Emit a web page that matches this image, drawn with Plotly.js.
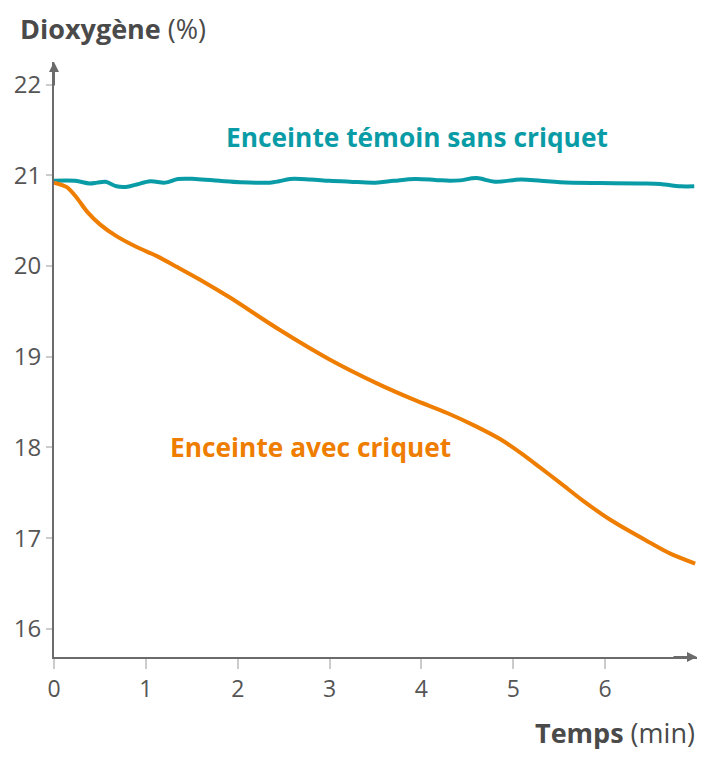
<!DOCTYPE html>
<html>
<head>
<meta charset="utf-8">
<script src="https://cdn.plot.ly/plotly-3.0.1.min.js"></script>
<style>html,body{margin:0;padding:0;background:#fff;}#chart{width:725px;height:760px;}</style>
</head>
<body>
<div id="chart"></div>
<script>
// Time (min)
const tempsTemoin = [0, 0.23, 0.39, 0.47, 0.56, 0.68, 0.8, 0.9, 1.05, 1.21, 1.35, 1.54, 1.8, 2.03, 2.35, 2.45, 2.57, 2.79, 3.0, 3.22, 3.5, 3.7, 3.93, 4.15, 4.31, 4.42, 4.6, 4.8, 5.08, 5.3, 5.51, 5.95, 6.38, 6.6, 6.82, 6.97];
const o2Temoin   = [20.94, 20.94, 20.91, 20.92, 20.93, 20.88, 20.875, 20.9, 20.935, 20.92, 20.96, 20.96, 20.94, 20.925, 20.92, 20.935, 20.96, 20.955, 20.94, 20.93, 20.92, 20.94, 20.96, 20.95, 20.94, 20.945, 20.97, 20.93, 20.955, 20.94, 20.925, 20.915, 20.91, 20.905, 20.88, 20.88];

const tempsCriquet = [0, 0.14, 0.25, 0.36, 0.5, 0.68, 0.9, 1.12, 1.34, 1.59, 1.92, 2.45, 3.0, 3.55, 3.91, 4.28, 4.6, 4.86, 5.08, 5.29, 5.51, 5.75, 6.06, 6.49, 6.71, 6.98];
const o2Criquet    = [20.92, 20.87, 20.75, 20.6, 20.46, 20.33, 20.21, 20.11, 19.99, 19.85, 19.65, 19.3, 18.97, 18.69, 18.53, 18.38, 18.23, 18.09, 17.94, 17.78, 17.61, 17.42, 17.2, 16.95, 16.83, 16.72];

const yTicks = [16, 17, 18, 19, 20, 21, 22];
const xTicks = [0, 1, 2, 3, 4, 5, 6];

const FONT = "Open Sans";
const teal = "#0a9ca6";
const orange = "#ee7d00";
const axisCol = "#6b6b6b";

const data = [
  {x: tempsTemoin, y: o2Temoin, mode: "lines", line: {color: teal, width: 4, shape: "spline", smoothing: 1}, hoverinfo: "skip"},
  {x: tempsCriquet, y: o2Criquet, mode: "lines", line: {color: orange, width: 4, shape: "spline", smoothing: 0.8}, hoverinfo: "skip"}
];

const layout = {
  width: 725, height: 760,
  margin: {l: 54, r: 28, t: 62, b: 103},
  showlegend: false,
  paper_bgcolor: "#fff", plot_bgcolor: "#fff",
  font: {family: FONT, color: "#555"},
  title: {text: "<b>Dioxygène</b> (%)", x: 20/725, xanchor: "left", xref: "container", y: 1 - 30/760, yanchor: "middle", yref: "container",
          font: {family: FONT, size: 27, color: "#4a4a4a"}},
  xaxis: {range: [0, 7.0], tickvals: xTicks, ticktext: xTicks.map(String), showgrid: false, zeroline: false,
          showline: true, linecolor: axisCol, linewidth: 2, ticks: "outside", ticklen: 10, tickwidth: 2, tickcolor: "#cccccc",
          tickfont: {family: FONT, size: 23, color: "#555"}, fixedrange: true},
  yaxis: {range: [15.69, 22.25], tickvals: yTicks, ticktext: yTicks.map(String), showgrid: false, zeroline: false,
          showline: true, linecolor: axisCol, linewidth: 2, ticks: "outside", ticklen: 6, tickwidth: 2, tickcolor: "#cccccc",
          tickfont: {family: FONT, size: 24, color: "#555"}, fixedrange: true},
  annotations: [
    {xref: "paper", yref: "paper", x: 1, y: 0, ax: -25, ay: 0, axref: "pixel", ayref: "pixel", text: "", showarrow: true,
     arrowhead: 2, arrowsize: 1, arrowwidth: 2, arrowcolor: axisCol},
    {xref: "paper", yref: "paper", x: 0, y: 1, ax: 0, ay: 25, axref: "pixel", ayref: "pixel", text: "", showarrow: true,
     arrowhead: 2, arrowsize: 1, arrowwidth: 2, arrowcolor: axisCol},
    {xref: "x", yref: "y", x: 3.955, y: 21.42, text: "<b>Enceinte témoin sans criquet</b>", showarrow: false,
     font: {family: FONT, size: 26.3, color: teal}, xanchor: "center", yanchor: "middle"},
    {xref: "x", yref: "y", x: 2.79, y: 18.0, text: "<b>Enceinte avec criquet</b>", showarrow: false,
     font: {family: FONT, size: 26.3, color: orange}, xanchor: "center", yanchor: "middle"},
    {xref: "paper", yref: "paper", x: 1, y: 0, yshift: -75, text: "<b>Temps</b> (min)", showarrow: false,
     font: {family: FONT, size: 27, color: "#4a4a4a"}, xanchor: "right", yanchor: "middle"}
  ]
};

Plotly.newPlot("chart", data, layout, {displayModeBar: false, staticPlot: true});
</script>
</body>
</html>
